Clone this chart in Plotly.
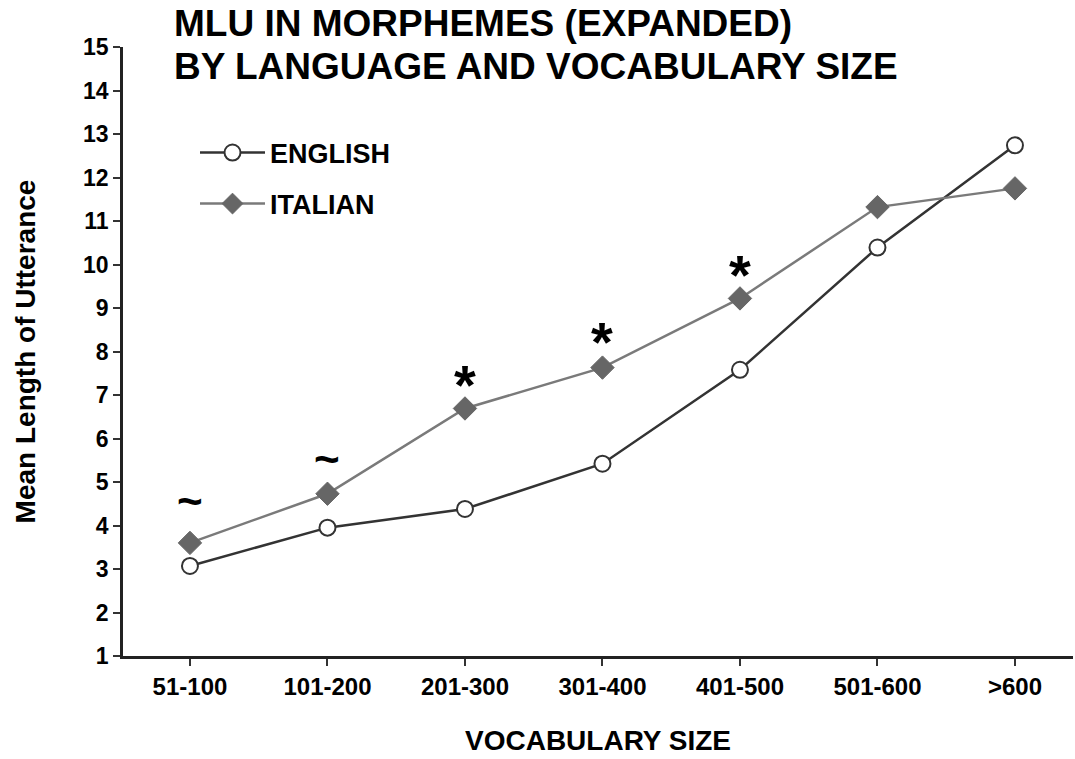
import plotly.graph_objects as go

categories = ["51-100", "101-200", "201-300", "301-400", "401-500", "501-600", ">600"]
english = [3.07, 3.95, 4.38, 5.42, 7.58, 10.39, 12.74]
italian = [3.60, 4.73, 6.69, 7.63, 9.22, 11.32, 11.75]

sig_labels = ["~", "~", "*", "*", "*"]
sig_x = ["51-100", "101-200", "201-300", "301-400", "401-500"]
sig_y = [4.57, 5.54, 7.38, 8.37, 9.91]

title_lines = ["MLU IN MORPHEMES (EXPANDED)", "BY LANGUAGE AND VOCABULARY SIZE"]
y_ticks = list(range(1, 16))

FONT = "Liberation Sans, Arial, Helvetica, sans-serif"

# plot-area geometry (pixels) used to place paper-referenced texts
L, R, T, B = 123, 2, 47, 103
W, H = 1075, 759
PW, PH = W - L - R, H - T - B


def px_to_paper_x(px):
    return (px - L) / PW


def px_to_paper_y(py):
    return (H - B - py) / PH


fig = go.Figure()
fig.add_trace(go.Scatter(
    x=categories, y=english, name="ENGLISH", mode="lines+markers",
    line=dict(color="#333333", width=2.5),
    marker=dict(symbol="circle", size=16, color="white", line=dict(color="#333333", width=2)),
    legend="legend", showlegend=True,
))
fig.add_trace(go.Scatter(
    x=categories, y=italian, name="ITALIAN", mode="lines+markers",
    line=dict(color="#7a7a7a", width=2.5),
    marker=dict(symbol="diamond", size=18, color="#666666", line=dict(color="#666666", width=1)),
    legend="legend2", showlegend=True,
))

for lab, xx, yy in zip(sig_labels, sig_x, sig_y):
    fig.add_annotation(x=xx, y=yy, text="<b>%s</b>" % lab, showarrow=False,
                       font=dict(family=FONT, size=44 if lab == "~" else 56, color="black"),
                       xanchor="center", yanchor="middle",
                       yshift=0 if lab == "~" else -6)

for line_text, py in zip(title_lines, [24, 67]):
    fig.add_annotation(xref="paper", yref="paper", x=px_to_paper_x(172), y=px_to_paper_y(py),
                       text="<b>%s</b>" % line_text, showarrow=False,
                       xanchor="left", yanchor="middle", align="left",
                       font=dict(family=FONT, size=37, color="black"))

legend_common = dict(xanchor="left", yanchor="middle", bgcolor="rgba(0,0,0,0)", itemwidth=65,
                     font=dict(family=FONT, size=27, color="black", weight="bold"))

fig.update_layout(
    width=W, height=H,
    margin=dict(l=L, r=R, t=T, b=B),
    plot_bgcolor="white", paper_bgcolor="white",
    font=dict(family=FONT, color="black"),
    showlegend=True,
    legend=dict(x=px_to_paper_x(195), y=px_to_paper_y(153), **legend_common),
    legend2=dict(x=px_to_paper_x(195), y=px_to_paper_y(204), **legend_common),
    xaxis=dict(
        type="category", categoryorder="array", categoryarray=categories,
        range=[-0.487, 6.422],
        showline=True, linecolor="#222222", linewidth=2.5,
        ticks="outside", ticklen=7, tickwidth=1.5, tickcolor="#333333",
        showgrid=False, zeroline=False,
        tickfont=dict(family=FONT, size=24, color="black", weight="bold"),
        title=dict(text="<b>VOCABULARY SIZE</b>", standoff=32,
                   font=dict(family=FONT, size=28, color="black")),
    ),
    yaxis=dict(
        range=[1, 15], tickvals=y_ticks,
        showline=True, linecolor="#222222", linewidth=2.5,
        ticks="outside", ticklen=7, tickwidth=1.5, tickcolor="#333333",
        showgrid=False, zeroline=False,
        tickfont=dict(family=FONT, size=23, color="black", weight="bold"),
        title=dict(text="<b>Mean Length of Utterance</b>", standoff=40,
                   font=dict(family=FONT, size=28, color="black")),
    ),
)

fig.write_html("out.html", config={"displayModeBar": False},
               post_script="document.body.style.margin='0px';")
